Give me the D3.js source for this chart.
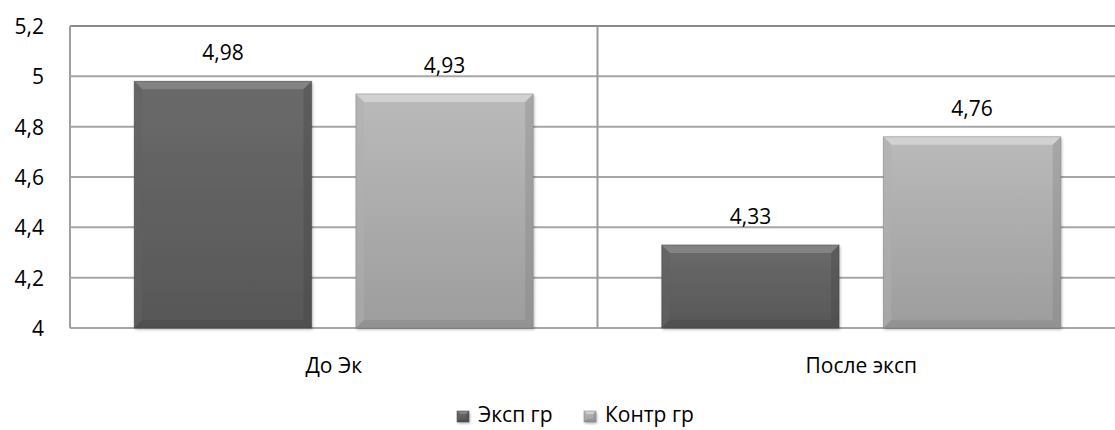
<!DOCTYPE html>
<html>
<head>
<meta charset="utf-8">
<script src="https://cdn.jsdelivr.net/npm/d3@7"></script>
<style>
  body { margin: 0; background: #fff; }
  svg { font-family: "Open Sans", "Noto Sans", sans-serif; }
</style>
</head>
<body>
<svg id="chart" width="1115" height="430"></svg>
<script>
const categories = ["До Эк", "После эксп"];
const seriesNames = ["Эксп гр", "Контр гр"];
const expValues = [4.98, 4.33];
const ctrlValues = [4.93, 4.76];
const yTicks = [4, 4.2, 4.4, 4.6, 4.8, 5, 5.2];
const yTickLabels = ["4", "4,2", "4,4", "4,6", "4,8", "5", "5,2"];

const svg = d3.select("#chart");
const plotLeft = 70, plotRight = 1125, plotTop = 26, plotBottom = 328;
const fs = 21;

const x = d3.scaleBand().domain(categories).range([plotLeft, plotRight]);
const inner = d3.scaleBand().domain(seriesNames)
    .range([0, x.bandwidth()]).paddingInner(0.2).paddingOuter(0.29);
const y = d3.scaleLinear().domain([4, 5.2]).range([plotBottom, plotTop]);

const colors = [
    {top: "#6a6a6a", bot: "#575757", hi: "#8c8c8c", lo: "#404040", side: "#626262"},
    {top: "#bababa", bot: "#9d9d9d", hi: "#dadada", lo: "#7a7a7a", side: "#b0b0b0"}
];

const defs = svg.append("defs");
colors.forEach((c, i) => {
    const g = defs.append("linearGradient").attr("id", "g" + i)
        .attr("x1", 0).attr("y1", 0).attr("x2", 0).attr("y2", 1);
    g.append("stop").attr("offset", "0%").attr("stop-color", c.top);
    g.append("stop").attr("offset", "100%").attr("stop-color", c.bot);
});
const f = defs.append("filter").attr("id", "shadow")
    .attr("x", "-10%").attr("y", "-10%").attr("width", "130%").attr("height", "130%");
f.append("feDropShadow").attr("dx", 1).attr("dy", 1.5).attr("stdDeviation", 1.8)
    .attr("flood-color", "#000").attr("flood-opacity", 0.3);

// grid
svg.append("g").selectAll("line").data(yTicks).join("line")
    .attr("x1", plotLeft).attr("x2", plotRight)
    .attr("y1", d => y(d)).attr("y2", d => y(d))
    .attr("stroke", (d, i) => i === yTicks.length - 1 ? "#8a8a8a" : "#a6a6a6")
    .attr("stroke-width", 2);

// axis line + category separator
svg.append("line").attr("x1", plotLeft).attr("x2", plotLeft).attr("y1", plotTop).attr("y2", plotBottom)
    .attr("stroke", "#a0a0a0").attr("stroke-width", 2);
svg.append("line").attr("x1", x(categories[1])).attr("x2", x(categories[1]))
    .attr("y1", plotTop).attr("y2", plotBottom)
    .attr("stroke", "#9a9a9a").attr("stroke-width", 2);

// y labels
svg.append("g").selectAll("text").data(yTicks).join("text")
    .attr("x", 44).attr("y", d => y(d) + 8)
    .attr("text-anchor", "end").attr("font-size", fs).attr("fill", "#000")
    .text((d, i) => yTickLabels[i]);

function bevelBar(g, x0, y0, w, h, c, idx, b) {
    g.append("rect").attr("x", x0).attr("y", y0).attr("width", w).attr("height", h)
        .attr("fill", `url(#g${idx})`).attr("filter", "url(#shadow)");
    const p = (pts) => g.append("polygon").attr("points", pts.map(q => q.join(",")).join(" "));
    p([[x0, y0], [x0 + w, y0], [x0 + w - b, y0 + b], [x0 + b, y0 + b]]).attr("fill", c.hi).attr("opacity", 0.75);
    p([[x0, y0], [x0 + b, y0 + b], [x0 + b, y0 + h - b], [x0, y0 + h]]).attr("fill", c.side).attr("opacity", 0.5);
    p([[x0 + w, y0], [x0 + w, y0 + h], [x0 + w - b, y0 + h - b], [x0 + w - b, y0 + b]]).attr("fill", c.lo).attr("opacity", 0.3);
    p([[x0, y0 + h], [x0 + b, y0 + h - b], [x0 + w - b, y0 + h - b], [x0 + w, y0 + h]]).attr("fill", c.lo).attr("opacity", 0.3);
    g.append("rect").attr("x", x0).attr("y", y0).attr("width", w).attr("height", h)
        .attr("fill", "none").attr("stroke", c.lo).attr("stroke-opacity", 0.45).attr("stroke-width", 1);
}

const series = [expValues, ctrlValues];
const bars = svg.append("g");
const labels = svg.append("g");
series.forEach((vals, si) => {
    vals.forEach((v, ci) => {
        const bx = x(categories[ci]) + inner(seriesNames[si]);
        const bw = inner.bandwidth();
        bevelBar(bars.append("g"), bx, y(v), bw, plotBottom - y(v), colors[si], si, 8);
        labels.append("text")
            .attr("x", bx + bw / 2).attr("y", y(v) - 21)
            .attr("text-anchor", "middle").attr("font-size", fs).attr("fill", "#000")
            .text(d3.format(".2f")(v).replace(".", ","));
    });
});

// category labels
svg.append("g").selectAll("text").data(categories).join("text")
    .attr("x", d => x(d) + x.bandwidth() / 2)
    .attr("y", 373).attr("text-anchor", "middle").attr("font-size", fs).attr("fill", "#000")
    .text(d => d);

// legend
const legendX = [457, 584];
const lg = svg.append("g");
seriesNames.forEach((name, i) => {
    const gi = lg.append("g");
    bevelBar(gi, legendX[i], 411, 12, 11, colors[i], i, 3);
    gi.append("text").attr("x", legendX[i] + 21).attr("y", 422)
        .attr("font-size", fs).attr("fill", "#000").text(name);
});
</script>
</body>
</html>
